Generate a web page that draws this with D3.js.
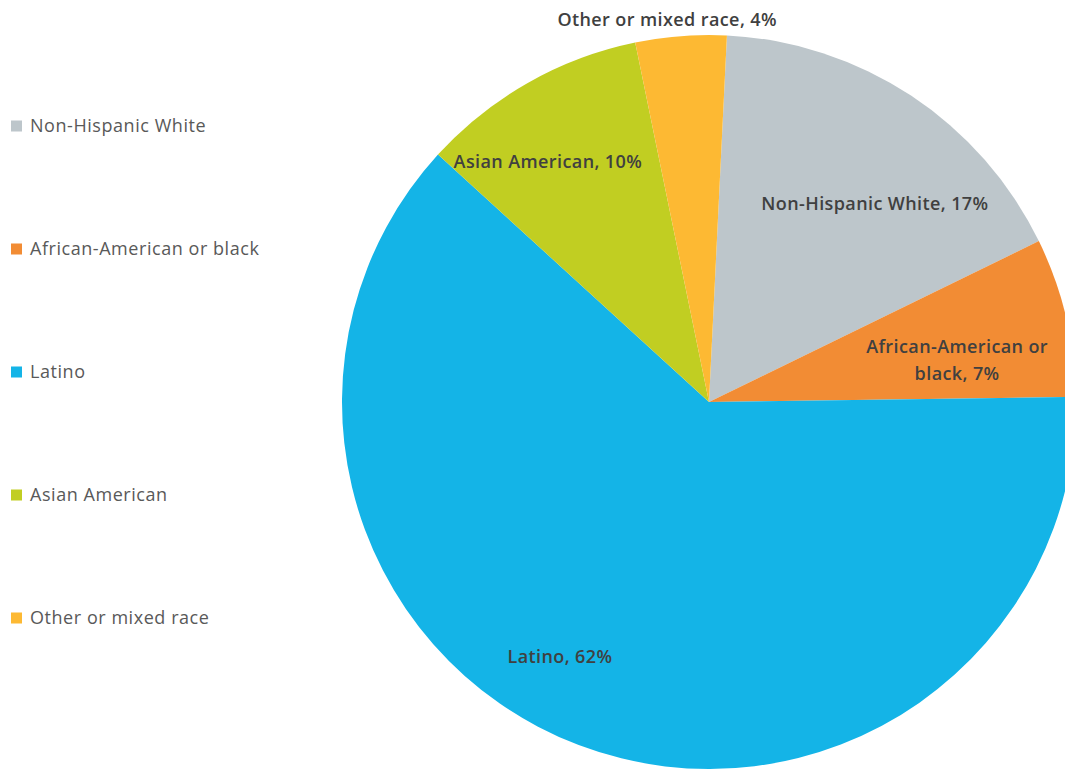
<!DOCTYPE html>
<html>
<head>
<meta charset="utf-8">
<script src="https://cdn.jsdelivr.net/npm/d3@7"></script>
<style>
  html, body { margin: 0; padding: 0; background: #fff; }
  svg { display: block; }
</style>
</head>
<body>
<svg id="chart" width="1065" height="771"></svg>
<script>
const categories = ["Non-Hispanic White", "African-American or black", "Latino", "Asian American", "Other or mixed race"];
const values = [17, 7, 62, 10, 4];
const colors = ["#BDC6CB", "#F28C34", "#14B4E7", "#C1CE22", "#FDB933"];
const sliceLabels = [["Non-Hispanic White, 17%"], ["African-American or", "black, 7%"], ["Latino, 62%"], ["Asian American, 10%"], ["Other or mixed race, 4%"]];
// label anchor offsets in units of radius, relative to the pie centre
const labelOffsets = [[0.452, -0.54], [0.676, -0.114], [-0.406, 0.695], [-0.439, -0.654], [-0.114, -1.041]];

const svg = d3.select("#chart");
const cx = 709, cy = 402, R = 367;
const offset = 2.8 * Math.PI / 180;

const data = categories.map((c, i) => ({ cat: c, value: values[i], i }));
const pie = d3.pie().sort(null).value(d => d.value).startAngle(offset).endAngle(offset + 2 * Math.PI);
const arc = d3.arc().innerRadius(0).outerRadius(R);
const color = d3.scaleOrdinal().domain(categories).range(colors);

const g = svg.append("g").attr("transform", `translate(${cx},${cy})`);
g.selectAll("path").data(pie(data)).join("path")
  .attr("d", arc)
  .attr("fill", d => color(d.data.cat))
  .attr("stroke", "none");

const rad = d3.scaleLinear().domain([0, 1]).range([0, R]);
const lbl = g.selectAll("g.lbl").data(data).join("g")
  .attr("class", "lbl")
  .attr("transform", d => `translate(${rad(labelOffsets[d.i][0])},${rad(labelOffsets[d.i][1])})`);
lbl.each(function(d) {
  const lines = sliceLabels[d.i];
  const lh = 27;
  const t = d3.select(this).append("text")
    .attr("text-anchor", "middle")
    .attr("font-family", "'Open Sans', 'Noto Sans', sans-serif")
    .attr("font-weight", 600)
    .attr("font-size", 18)
    .attr("letter-spacing", 0.4)
    .attr("fill", "#404040");
  lines.forEach((ln, k) => {
    t.append("tspan").attr("x", 0)
      .attr("y", (k - (lines.length - 1) / 2) * lh)
      .attr("dy", "0.35em")
      .text(ln);
  });
});

// legend
const ly = d3.scalePoint().domain(categories).range([126, 618]);
const leg = svg.append("g").selectAll("g").data(categories).join("g")
  .attr("transform", d => `translate(11,${ly(d)})`);
leg.append("rect").attr("x", 0).attr("y", -5.5).attr("width", 11).attr("height", 11)
  .attr("fill", d => color(d));
leg.append("text").attr("x", 19).attr("y", 0).attr("dy", "0.35em")
  .attr("font-family", "'Open Sans', 'Noto Sans', sans-serif")
  .attr("font-size", 18)
  .attr("letter-spacing", 0.55)
  .attr("fill", "#595959")
  .text(d => d);
</script>
</body>
</html>
